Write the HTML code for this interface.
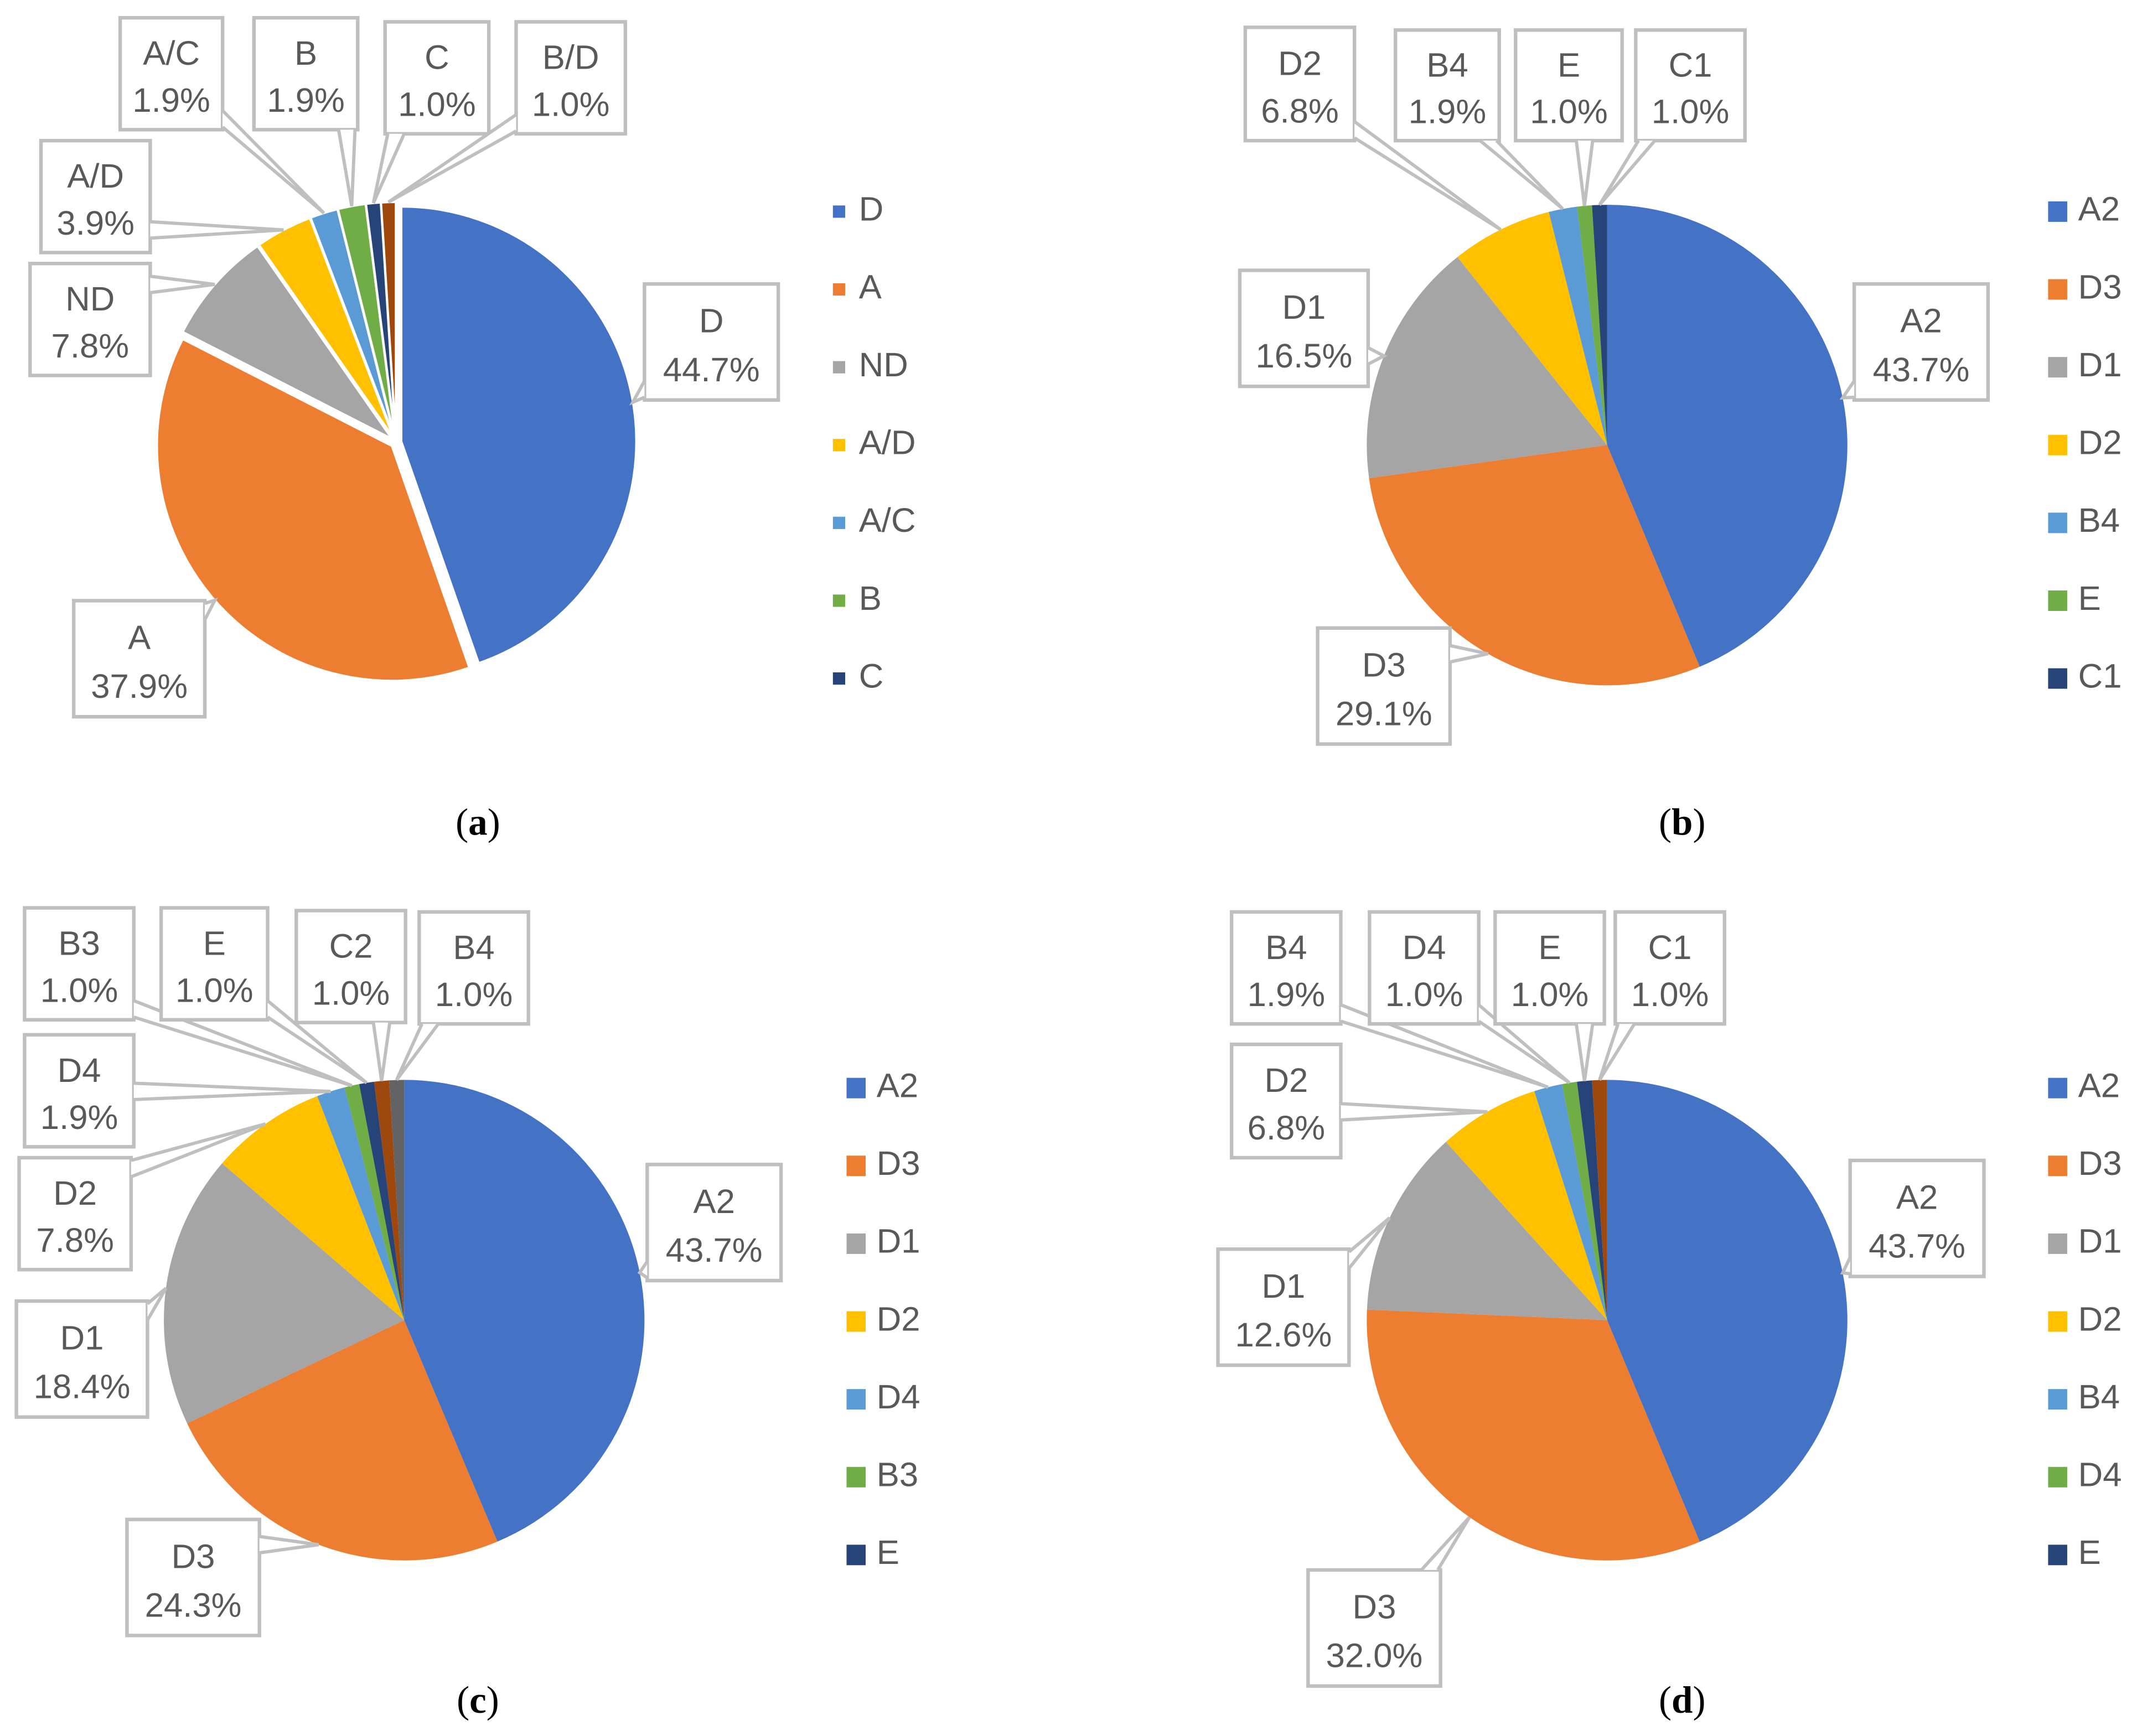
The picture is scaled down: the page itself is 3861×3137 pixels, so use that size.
<!DOCTYPE html>
<html><head><meta charset="utf-8">
<style>
html,body{margin:0;padding:0;background:#fff;}
svg{display:block;}
text{font-family:"Liberation Sans",sans-serif;}
</style></head>
<body>
<svg id="root" xmlns="http://www.w3.org/2000/svg" width="3861" height="3137" viewBox="0 0 1565.1 1271.6">
<rect x="0" y="0" width="1565.1" height="1271.6" fill="#fff"/>
</svg>
<script>
// Chart (a)
const catsA = ["D","A","ND","A/D","A/C","B","C","B/D"];
const valsA = [44.7,37.9,7.8,3.9,1.9,1.9,1.0,1.0];
const legendA = ["D","A","ND","A/D","A/C","B","C"];
// Chart (b)
const catsB = ["A2","D3","D1","D2","B4","E","C1"];
const valsB = [43.7,29.1,16.5,6.8,1.9,1.0,1.0];
const legendB = ["A2","D3","D1","D2","B4","E","C1"];
// Chart (c)
const catsC = ["A2","D3","D1","D2","D4","B3","E","C2","B4"];
const valsC = [43.7,24.3,18.4,7.8,1.9,1.0,1.0,1.0,1.0];
const legendC = ["A2","D3","D1","D2","D4","B3","E"];
// Chart (d)
const catsD = ["A2","D3","D1","D2","B4","D4","E","C1"];
const valsD = [43.7,32.0,12.6,6.8,1.9,1.0,1.0,1.0];
const legendD = ["A2","D3","D1","D2","B4","D4","E"];

const COLORS = ["#4472C4","#ED7D31","#A5A5A5","#FFC000","#5B9BD5","#70AD47","#264478","#9E480E","#636363"];
const NS = "http://www.w3.org/2000/svg";
const root = document.getElementById('root');
function mk(tag, attrs, parent){const e=document.createElementNS(NS,tag);for(const k in attrs)e.setAttribute(k,attrs[k]);(parent||root).appendChild(e);return e;}

const charts = [
 {id:'a',cats:catsA,vals:valsA,legend:legendA,cx:290,cy:324,r:172,explode:4,legX:610,legY:155,cap:[350,605],
  boxes:{"D":[472,208,98,85],"A":[54,440,96,85],"ND":[22,193,88,82],"A/D":[30,103,80,82],"A/C":[88,13,75,82],"B":[186,13,76,82],"C":[282,16,76,82],"B/D":[378,16,80,82]}},
 {id:'b',cats:catsB,vals:valsB,legend:legendB,cx:1177,cy:326,r:176,explode:0,legX:1500,legY:155,cap:[1232,605],
  boxes:{"A2":[1358,208,98,85],"D3":[965,460,97,85],"D1":[908,198,94,85],"D2":[912,20,80,83],"B4":[1022,22,76,81],"E":[1110,22,78,81],"C1":[1198,22,80,81]}},
 {id:'c',cats:catsC,vals:valsC,legend:legendC,cx:296,cy:967,r:176,explode:0,legX:620,legY:797,cap:[350,1248],
  boxes:{"A2":[474,853,98,85],"D3":[93,1113,97,85],"D1":[12,953,96,85],"D2":[14,848,82,82],"D4":[18,758,80,82],"B3":[18,665,80,82],"E":[118,665,78,82],"C2":[217,667,80,82],"B4":[307,668,80,82]}},
 {id:'d',cats:catsD,vals:valsD,legend:legendD,cx:1177,cy:967,r:176,explode:0,legX:1500,legY:797,cap:[1232,1248],
  boxes:{"A2":[1355,850,98,85],"D3":[958,1150,97,85],"D1":[892,915,96,85],"D2":[902,765,80,83],"B4":[902,668,80,82],"D4":[1003,668,80,82],"E":[1095,668,80,82],"C1":[1183,668,80,82]}}
];

function pt(cx,cy,r,frac){const t=frac*2*Math.PI;return [cx+r*Math.sin(t),cy-r*Math.cos(t)];}

charts.forEach(ch=>{
  const g = mk('g',{});
  
  
  const total = ch.vals.reduce((a,b)=>a+b,0);
  let acc=0;
  const mids=[];
  ch.vals.forEach((v,i)=>{
    const f0=acc/total, f1=(acc+v)/total; acc+=v;
    const fm=(f0+f1)/2;
    const off=pt(0,0,ch.explode,fm);
    const cx=ch.cx+off[0], cy=ch.cy+off[1];
    const p0=pt(cx,cy,ch.r,f0), p1=pt(cx,cy,ch.r,f1);
    const large=(f1-f0)>0.5?1:0;
    const p=mk('path',{d:`M${cx},${cy}L${p0[0]},${p0[1]}A${ch.r},${ch.r} 0 ${large} 1 ${p1[0]},${p1[1]}Z`,fill:COLORS[i%COLORS.length],stroke:ch.explode?'#fff':'none','stroke-width':ch.explode?1.5:0},g);
    
    
    mids.push([pt(cx,cy,ch.r,fm),ch.cats[i],v]);
  });
  mids.forEach(([tip,cat,v])=>{
    const b=ch.boxes[cat]; if(!b) return;
    const cg=mk('g',{},g);
    
    
    const [x,y,w,h]=b;
    mk('rect',{x:x,y:y,width:w,height:h,fill:'#fff',stroke:'#BFBFBF','stroke-width':2.6},cg);
    const nx=Math.max(x,Math.min(x+w,tip[0])), ny=Math.max(y,Math.min(y+h,tip[1]));
    let a,bb;
    const dx=tip[0]-nx, dy=tip[1]-ny;
    if(Math.abs(dy)>=Math.abs(dx) && dy!==0){
      const ex=Math.max(x+8,Math.min(x+w-8,nx));
      a=[ex-6,ny]; bb=[ex+6,ny];
    } else {
      const ey=Math.max(y+8,Math.min(y+h-8,ny));
      a=[nx,ey-6]; bb=[nx,ey+6];
    }
    mk('polygon',{points:`${a[0]},${a[1]} ${tip[0]},${tip[1]} ${bb[0]},${bb[1]}`,fill:'#fff',stroke:'none'},cg);
    mk('polyline',{points:`${a[0]},${a[1]} ${tip[0]},${tip[1]} ${bb[0]},${bb[1]}`,fill:'none',stroke:'#BFBFBF','stroke-width':2.4},cg);
    const t1=mk('text',{x:x+w/2,y:y+h*0.34,'text-anchor':'middle','dominant-baseline':'middle','font-size':25,fill:'#595959'},cg);
    t1.textContent=cat;
    const t2=mk('text',{x:x+w/2,y:y+h*0.76,'text-anchor':'middle','dominant-baseline':'middle','font-size':25,fill:'#595959'},cg);
    t2.textContent=v.toFixed(1)+'%';
  });
  ch.legend.forEach((c,i)=>{
    const lg=mk('g',{},g);
    
    
    const y=ch.legY+i*57;
    const sz = ch.id==='a'?9:15;
    mk('rect',{x:ch.legX,y:y-sz/2,width:ch.id==='a'?9:14,height:sz,fill:COLORS[ch.cats.indexOf(c)%COLORS.length]},lg);
    const t=mk('text',{x:ch.legX+(ch.id==='a'?19:22),y:y,'dominant-baseline':'middle','font-size':25,fill:'#595959'},lg);
    t.textContent=c;
  });
  const cap=mk('text',{x:ch.cap[0],y:ch.cap[1],'text-anchor':'middle','dominant-baseline':'middle','font-size':28,fill:'#000'},g);
  cap.setAttribute('style','font-family:"Liberation Serif",serif');
  
  
  cap.innerHTML='(<tspan font-weight="bold">'+ch.id+'</tspan>)';
});
</script>
</body></html>
